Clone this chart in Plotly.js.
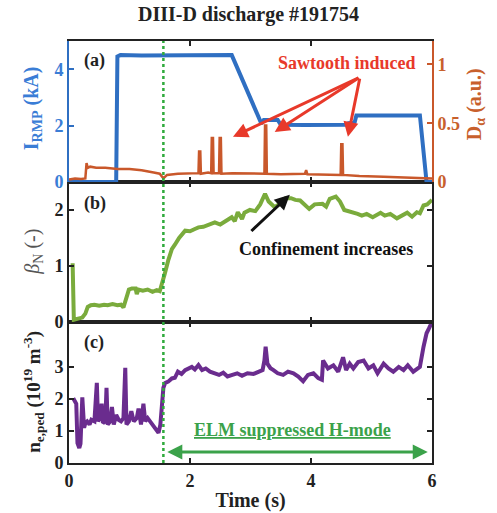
<!DOCTYPE html>
<html>
<head>
<meta charset="utf-8">
<script src="https://cdn.plot.ly/plotly-3.0.1.min.js"></script>
<style>html,body{margin:0;padding:0;background:#fff;}#chart{width:497px;height:513px;}</style>
</head>
<body>
<div id="chart"></div>
<script>
// ---- Data ----
const irmpTime = [0, 0.78, 0.8, 0.85, 1.2, 1.6, 2.0, 2.4, 2.69, 3.18, 3.22, 3.45, 3.5, 3.9, 4.3, 4.59, 4.62, 4.72, 4.75, 5.2, 5.6, 5.8, 5.91, 6.0];
const irmpKA   = [0, 0, 4.45, 4.5, 4.49, 4.5, 4.49, 4.5, 4.5, 2.07, 2.2, 2.2, 2.03, 2.02, 2.03, 2.03, 2.08, 2.1, 2.36, 2.37, 2.36, 2.36, 0, 0];

const dalphaTime = [0, 0.1, 0.2, 0.27, 0.29, 0.31, 0.35, 0.45, 0.6, 0.8, 1.0, 1.2, 1.4, 1.5, 1.56, 1.62, 1.8, 2.0, 2.14, 2.15, 2.17, 2.18, 2.3, 2.35, 2.36, 2.38, 2.39, 2.48, 2.49, 2.51, 2.52, 2.7, 3.0, 3.23, 3.24, 3.26, 3.27, 3.5, 3.9, 3.92, 3.94, 4.2, 4.49, 4.5, 4.52, 4.53, 4.8, 5.2, 5.6, 5.9, 6.0];
const dalphaAU   = [0.02, 0.03, 0.025, 0.03, 0.16, 0.12, 0.13, 0.12, 0.12, 0.11, 0.11, 0.1, 0.08, 0.07, 0.03, 0.06, 0.07, 0.07, 0.075, 0.26, 0.26, 0.07, 0.08, 0.075, 0.375, 0.375, 0.075, 0.075, 0.375, 0.375, 0.07, 0.075, 0.07, 0.07, 0.48, 0.48, 0.07, 0.065, 0.07, 0.1, 0.065, 0.06, 0.06, 0.32, 0.32, 0.06, 0.05, 0.045, 0.04, 0.03, 0.03];

const betaTime = [0.06, 0.08, 0.15, 0.22, 0.27, 0.31, 0.36, 0.42, 0.5, 0.58, 0.64, 0.72, 0.8, 0.86, 0.9, 0.94, 0.99, 1.04, 1.1, 1.12, 1.15, 1.22, 1.3, 1.38, 1.45, 1.5, 1.53, 1.58, 1.64, 1.7, 1.75, 1.82, 1.92, 2.0, 2.08, 2.14, 2.22, 2.3, 2.41, 2.5, 2.6, 2.69, 2.74, 2.79, 2.86, 2.9, 2.99, 3.08, 3.16, 3.24, 3.3, 3.4, 3.5, 3.58, 3.67, 3.74, 3.82, 3.9, 3.97, 4.06, 4.19, 4.25, 4.31, 4.41, 4.48, 4.55, 4.62, 4.7, 4.77, 4.84, 4.92, 5.02, 5.1, 5.15, 5.22, 5.31, 5.42, 5.5, 5.59, 5.67, 5.75, 5.8, 5.86, 5.92, 6.0];
const betaN    = [1.05, 0.04, 0.06, 0.08, 0.15, 0.27, 0.3, 0.31, 0.29, 0.31, 0.3, 0.32, 0.3, 0.31, 0.26, 0.4, 0.58, 0.6, 0.6, 0.5, 0.58, 0.56, 0.58, 0.54, 0.57, 0.55, 0.65, 0.85, 1.1, 1.3, 1.38, 1.5, 1.63, 1.62, 1.66, 1.69, 1.7, 1.74, 1.78, 1.74, 1.82, 1.87, 1.8, 1.96, 1.84, 1.95, 2.0, 1.98, 2.1, 2.29, 2.15, 2.05, 2.12, 2.21, 2.21, 2.18, 2.17, 2.1, 2.02, 2.1, 2.11, 2.06, 2.2, 2.24, 2.15, 2.0, 1.98, 1.96, 1.93, 1.9, 1.93, 1.87, 1.92, 1.95, 1.9, 1.93, 1.85, 1.9, 1.95, 1.88, 1.96, 1.94, 2.08, 2.1, 2.18];

const neTime = [0.07, 0.1, 0.12, 0.14, 0.17, 0.19, 0.2, 0.22, 0.25, 0.27, 0.3, 0.34, 0.37, 0.42, 0.46, 0.48, 0.51, 0.54, 0.56, 0.6, 0.62, 0.64, 0.68, 0.71, 0.74, 0.78, 0.82, 0.86, 0.9, 0.93, 0.95, 0.99, 1.03, 1.07, 1.12, 1.15, 1.19, 1.23, 1.26, 1.3, 1.34, 1.38, 1.43, 1.48, 1.51, 1.53, 1.56, 1.59, 1.64, 1.7, 1.75, 1.8, 1.86, 1.92, 1.97, 2.03, 2.08, 2.14, 2.2, 2.26, 2.33, 2.41, 2.48, 2.55, 2.62, 2.7, 2.78, 2.86, 2.95, 3.05, 3.12, 3.2, 3.23, 3.25, 3.28, 3.33, 3.38, 3.45, 3.54, 3.62, 3.71, 3.79, 3.87, 3.95, 4.04, 4.12, 4.18, 4.2, 4.28, 4.37, 4.45, 4.53, 4.58, 4.64, 4.7, 4.78, 4.87, 4.95, 5.03, 5.1, 5.2, 5.28, 5.36, 5.45, 5.53, 5.6, 5.69, 5.75, 5.8, 5.86, 5.91, 5.95, 6.0];
const neDens = [2.02, 1.9, 1.85, 0.62, 0.47, 0.6, 1.35, 2.05, 1.1, 1.25, 1.3, 1.2, 1.35, 1.3, 2.5, 1.3, 1.4, 1.85, 1.25, 1.3, 2.35, 1.2, 1.3, 1.75, 1.2, 1.5, 1.35, 1.3, 1.4, 2.97, 1.2, 1.3, 1.62, 1.3, 1.4, 1.7, 1.2, 1.85, 1.3, 1.4, 1.3, 1.2, 1.1, 0.94, 1.2, 1.74, 2.35, 2.5, 2.54, 2.64, 2.66, 2.85, 2.78, 2.9, 2.95, 3.0, 2.92, 3.06, 2.9, 2.95, 2.85, 2.8, 2.75, 2.82, 2.7, 2.75, 2.8, 2.72, 2.8, 2.78, 2.85, 2.9, 3.2, 3.63, 3.1, 2.96, 2.9, 2.8, 2.75, 2.85, 2.8, 2.7, 2.55, 2.75, 2.8, 2.65, 2.6, 3.2, 2.95, 3.05, 2.85, 3.3, 2.9, 3.1, 2.95, 3.15, 3.2, 2.95, 3.05, 2.8, 3.1, 2.95, 2.85, 3.0, 2.9, 3.05, 2.85, 2.95, 3.0, 3.63, 4.05, 4.2, 4.4];

const xTicks = [0, 2, 4, 6];
const irmpTicks = [0, 2, 4];
const dalphaTicks = [0, 0.5, 1];
const dalphaTickText = ['0', '0.5', '1'];
const betaTicks = [0, 1, 2];
const neTicks = [0, 1, 2, 3];

// ---- Styling ----
const SERIF = '"Liberation Serif", "Times New Roman", Times, serif';
const BLUE = '#2f6fc2', BLUE_T = '#3a7dd6';
const ORANGE = '#c9582b', ORANGE_T = '#c8602c';
const GREEN = '#7aab3c', PURPLE = '#6a2c8e';
const RED = '#e8392a', LGREEN = '#3ba24a', DOTGREEN = '#2faa3c';

const traces = [
  {x: irmpTime, y: irmpKA, xaxis: 'x3', yaxis: 'y', type: 'scatter', mode: 'lines', line: {color: BLUE, width: 4}, hoverinfo: 'skip'},
  {x: dalphaTime, y: dalphaAU, xaxis: 'x3', yaxis: 'y2', type: 'scatter', mode: 'lines', line: {color: ORANGE, width: 2.5}, hoverinfo: 'skip'},
  {x: betaTime, y: betaN, xaxis: 'x2', yaxis: 'y3', type: 'scatter', mode: 'lines', line: {color: GREEN, width: 4}, hoverinfo: 'skip'},
  {x: neTime, y: neDens, xaxis: 'x', yaxis: 'y4', type: 'scatter', mode: 'lines', line: {color: PURPLE, width: 4}, hoverinfo: 'skip'}
];

const tickFont = (c) => ({family: SERIF, size: 18, color: c, weight: 'bold'});
const xBase = {range: [0, 6], tickvals: xTicks, ticks: 'inside', ticklen: 5, tickwidth: 2, tickcolor: '#222',
  showline: true, linecolor: '#222', linewidth: 2, mirror: 'ticks', showgrid: false, zeroline: false, fixedrange: true};

const layout = {
  width: 497, height: 513,
  margin: {l: 69, r: 65, t: 41, b: 50},
  paper_bgcolor: '#fff', plot_bgcolor: '#fff',
  showlegend: false,
  font: {family: SERIF},
  title: {text: '<b>DIII-D discharge #191754</b>', font: {family: SERIF, size: 20, color: '#222'}, x: 0.5, xanchor: 'center', y: 0.972, yanchor: 'middle'},
  xaxis: Object.assign({}, xBase, {anchor: 'y4', tickfont: tickFont('#222'),
    title: {text: '<b>Time (s)</b>', font: {family: SERIF, size: 20, color: '#222'}, standoff: 3}}),
  xaxis2: Object.assign({}, xBase, {anchor: 'y3', matches: 'x', showticklabels: false}),
  xaxis3: Object.assign({}, xBase, {anchor: 'y', matches: 'x', showticklabels: false}),
  yaxis: {domain: [0.666, 1], anchor: 'x3', range: [0, 5], tickvals: irmpTicks, ticks: 'inside', ticklen: 5, tickwidth: 2,
    tickcolor: BLUE, showline: true, linecolor: BLUE, linewidth: 2, showgrid: false, zeroline: false, tickfont: tickFont(BLUE_T), fixedrange: true},
  yaxis2: {overlaying: 'y', side: 'right', anchor: 'x3', range: [0, 1.2], tickvals: dalphaTicks, ticktext: dalphaTickText, ticks: 'inside', ticklen: 5, tickwidth: 2,
    tickcolor: ORANGE, showline: true, linecolor: ORANGE, linewidth: 2, showgrid: false, zeroline: false, tickfont: tickFont(ORANGE_T), fixedrange: true},
  yaxis3: {domain: [0.334, 0.666], anchor: 'x2', range: [0, 2.5], tickvals: betaTicks, ticks: 'inside', ticklen: 5, tickwidth: 2,
    tickcolor: '#222', showline: true, linecolor: '#222', linewidth: 2, mirror: 'ticks', showgrid: false, zeroline: false, tickfont: tickFont('#222'), fixedrange: true},
  yaxis4: {domain: [0, 0.334], anchor: 'x', range: [0, 4.4], tickvals: neTicks, ticks: 'inside', ticklen: 5, tickwidth: 2,
    tickcolor: '#222', showline: true, linecolor: '#222', linewidth: 2, mirror: 'ticks', showgrid: false, zeroline: false, tickfont: tickFont('#222'), fixedrange: true},
  shapes: [
    {type: 'line', xref: 'x', yref: 'paper', x0: 1.56, x1: 1.56, y0: 0, y1: 1, line: {color: DOTGREEN, width: 2.5, dash: 'dot'}, layer: 'above'}
  ],
  annotations: [
    // panel labels
    {xref: 'x3', yref: 'y', x: 0.22, y: 4.3, text: '<b>(a)</b>', showarrow: false, xanchor: 'left', font: {family: SERIF, size: 18, color: '#222'}},
    {xref: 'x2', yref: 'y3', x: 0.22, y: 2.12, text: '<b>(b)</b>', showarrow: false, xanchor: 'left', font: {family: SERIF, size: 18, color: '#222'}},
    {xref: 'x', yref: 'y4', x: 0.22, y: 3.75, text: '<b>(c)</b>', showarrow: false, xanchor: 'left', font: {family: SERIF, size: 18, color: '#222'}},
    // y titles
    {xref: 'paper', yref: 'paper', x: -0.1, y: 0.84, text: '<b>I<sub>RMP</sub> (kA)</b>', textangle: -90, showarrow: false, xanchor: 'center', yanchor: 'middle', font: {family: SERIF, size: 20, color: BLUE_T}},
    {xref: 'paper', yref: 'paper', x: 1.118, y: 0.85, text: '<b>D<sub>α</sub> (a.u.)</b>', textangle: -90, showarrow: false, xanchor: 'center', yanchor: 'middle', font: {family: SERIF, size: 20, color: ORANGE_T}},
    {xref: 'paper', yref: 'paper', x: -0.1, y: 0.5, text: '<i>β</i><sub>N</sub> (-)', textangle: -90, showarrow: false, xanchor: 'center', yanchor: 'middle', font: {family: SERIF, size: 20, color: '#555'}},
    {xref: 'paper', yref: 'paper', x: -0.1, y: 0.168, text: '<b>n<sub>e,ped</sub> (10<sup>19</sup> m<sup>-3</sup>)</b>', textangle: -90, showarrow: false, xanchor: 'center', yanchor: 'middle', font: {family: SERIF, size: 19, color: '#222'}},
    // sawtooth annotation
    {xref: 'x3', yref: 'y', x: 4.6, y: 4.22, text: '<b>Sawtooth induced</b>', showarrow: false, xanchor: 'center', yanchor: 'middle', font: {family: SERIF, size: 18, color: RED}},
    {xref: 'x3', yref: 'y', x: 2.71, y: 1.6, axref: 'x3', ayref: 'y', ax: 4.81, ay: 3.72, text: '', showarrow: true, arrowhead: 2, arrowsize: 1, arrowwidth: 3, arrowcolor: RED},
    {xref: 'x3', yref: 'y', x: 3.40, y: 1.77, axref: 'x3', ayref: 'y', ax: 4.81, ay: 3.72, text: '', showarrow: true, arrowhead: 2, arrowsize: 1, arrowwidth: 3, arrowcolor: RED},
    {xref: 'x3', yref: 'y', x: 4.61, y: 1.6, axref: 'x3', ayref: 'y', ax: 4.81, ay: 3.72, text: '', showarrow: true, arrowhead: 2, arrowsize: 1, arrowwidth: 3, arrowcolor: RED},
    // confinement annotation
    {xref: 'x2', yref: 'y3', x: 4.25, y: 1.3, text: '<b>Confinement increases</b>', showarrow: false, xanchor: 'center', yanchor: 'middle', font: {family: SERIF, size: 18, color: '#111'}},
    {xref: 'x2', yref: 'y3', x: 3.65, y: 2.27, axref: 'x2', ayref: 'y3', ax: 2.99, ay: 1.6, text: '', showarrow: true, arrowhead: 2, arrowsize: 1, arrowwidth: 3, arrowcolor: '#111'},
    // ELM suppressed
    {xref: 'x', yref: 'y4', x: 3.69, y: 1.03, text: '<b><u>ELM suppressed H-mode</u></b>', showarrow: false, xanchor: 'center', yanchor: 'middle', font: {family: SERIF, size: 18, color: LGREEN}},
    {xref: 'x', yref: 'y4', x: 5.93, y: 0.34, axref: 'x', ayref: 'y4', ax: 1.6, ay: 0.34, text: '', showarrow: true, arrowhead: 2, arrowside: 'end+start', arrowsize: 1, arrowwidth: 3, arrowcolor: LGREEN}
  ]
};

Plotly.newPlot('chart', traces, layout, {displayModeBar: false, staticPlot: true});
</script>
</body>
</html>
